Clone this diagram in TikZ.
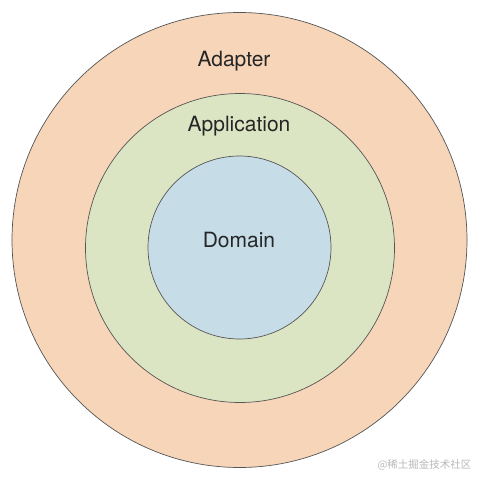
\documentclass[tikz,border=0pt]{standalone}
\usepackage{fontspec}
\setmainfont{TeX Gyre Heros}
\newfontfamily\cjk{Noto Sans CJK SC}
\definecolor{adapterfill}{HTML}{F6D5B9}
\definecolor{appfill}{HTML}{DCE5C3}
\definecolor{domainfill}{HTML}{C6DDE8}
\definecolor{ringline}{HTML}{555555}

\begin{document}
\begin{tikzpicture}[x=1pt, y=-1pt, every node/.style={font=\fontsize{21}{25}\selectfont, text=black!85}]
		\useasboundingbox (0,0) rectangle (488,488);
		\tikzset{ring/.style={circle, draw=ringline, line width=0.7pt, inner sep=0pt}}
		\node[ring, fill=adapterfill, minimum size=455pt] (adapterring) at (239.5,240) {};
		\node[ring, fill=appfill, minimum size=309pt] (appring) at (240,248) {};
		\node[ring, fill=domainfill, minimum size=183pt] (domainring) at (239.5,247.5) {};
		\node (adapter) at (234,61) {Adapter};
		\node (app) at (239,126) {Application};
		\node (domain) at (239,240) {Domain};
		\node[font=\cjk\fontsize{10.5}{12}\selectfont, text=black!28, anchor=east] (mark) at (475,465) {@稀土掘金技术社区};
	\end{tikzpicture}
\end{document}
